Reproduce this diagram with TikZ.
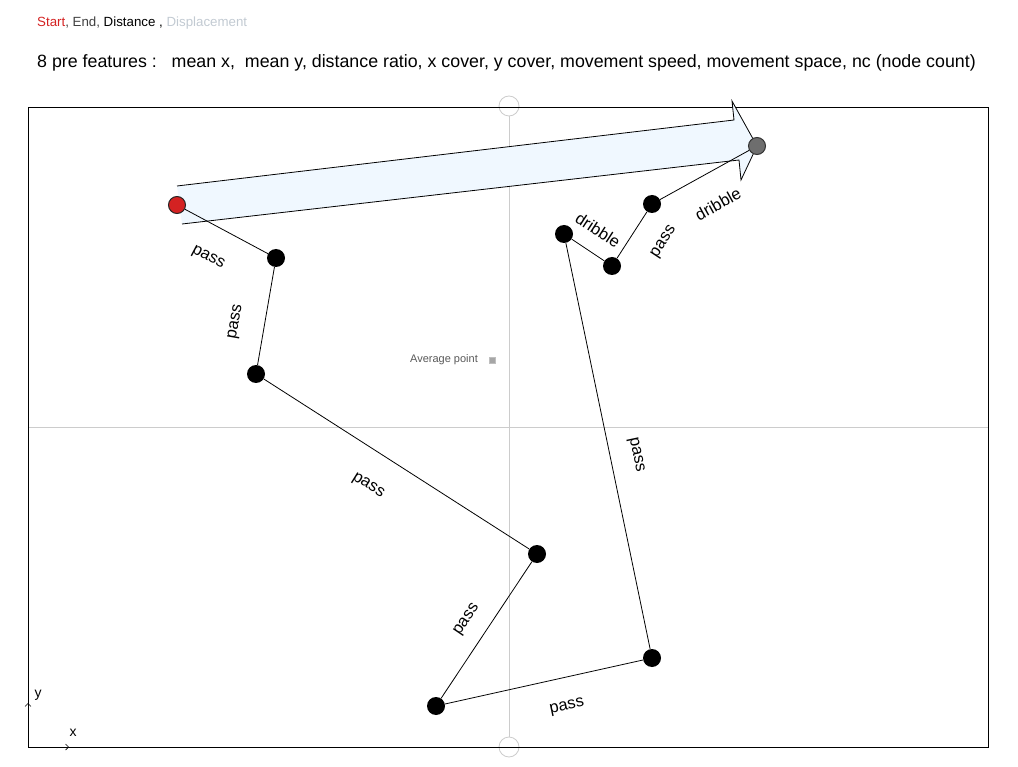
\documentclass[tikz,border=0pt]{standalone}
\usepackage{fontspec}
\setmainfont{Liberation Sans}
\usetikzlibrary{arrows.meta}
\definecolor{startred}{HTML}{D42222}
\definecolor{endgray}{HTML}{6E6E6E}
\definecolor{dispfill}{HTML}{F0F8FF}
\definecolor{guidegray}{HTML}{CCCCCC}
\definecolor{dispgray}{HTML}{C2CAD2}
\begin{document}
\begin{tikzpicture}[x=1pt,y=-1pt,
  dot/.style={circle,fill=black,inner sep=0pt,minimum size=18pt},
  lbl/.style={font=\fontsize{16.5}{19}\selectfont,inner sep=0pt},
  guide/.style={draw=guidegray,line width=0.8pt},
  edge/.style={draw=black,line width=0.8pt}]
\useasboundingbox (0,0) rectangle (1018,767);
% headers
\node[anchor=base west,inner sep=0pt,font=\fontsize{13.3}{16}\selectfont] (hdr) at (37,27)
  {\textcolor{startred}{Start}\textcolor{black!75}{, End,} Distance , \textcolor{dispgray}{Displacement}};
\node[anchor=base west,inner sep=0pt,font=\fontsize{17.8}{20}\selectfont] (feat) at (37,68)
  {8 pre features :\ \ \ mean x,\ \ mean y, distance ratio, x cover, y cover, movement speed, movement space, nc (node count)};
% guides
\node[circle,draw=guidegray,line width=0.8pt,minimum size=20pt,inner sep=0pt] (ctop) at (509,106) {};
\node[circle,draw=guidegray,line width=0.8pt,minimum size=20pt,inner sep=0pt] (cbot) at (509,747) {};
\draw[guide] (ctop.south) -- (cbot.north);
\coordinate (hl) at (28,427);
\coordinate (hr) at (988,427);
\draw[guide] (hl) -- (hr);
% frame
\draw[line width=0.9pt] (28,107) rectangle (988,747);
% axes marks
\coordinate (ya) at (28,714);
\coordinate (yb) at (28,703);
\draw[line width=0.7pt,-{Straight Barb[length=3pt,width=6pt]}] (ya) -- (yb);
\coordinate (xa) at (58,747);
\coordinate (xb) at (69,747);
\draw[line width=0.7pt,-{Straight Barb[length=3pt,width=6pt]}] (xa) -- (xb);
\node[font=\fontsize{14}{16}\selectfont,inner sep=0pt] (ylab) at (38,695) {y};
\node[font=\fontsize{14}{16}\selectfont,inner sep=0pt] (xlab) at (73,733) {x};
% displacement arrow
\coordinate (t1) at (177,186);
\coordinate (s1) at (734,120);
\coordinate (b1) at (732,101);
\coordinate (tip) at (757,146);
\coordinate (b2) at (741,180);
\coordinate (s2) at (739,160);
\coordinate (t2) at (182,224);
\fill[dispfill] (t1) -- (s1) -- (b1) -- (tip) -- (b2) -- (s2) -- (t2) -- cycle;
\draw[line width=0.8pt,line join=miter] (t1) -- (s1) -- (b1) -- (tip) -- (b2) -- (s2) -- (t2);
% average point
\node[font=\fontsize{11}{13}\selectfont,text=black!65,inner sep=0pt] (avg) at (444,360) {Average point};
\node[fill=black!35,draw=black!25,minimum size=6pt,inner sep=0pt] (avgpt) at (492,360) {};
% nodes
\node[circle,fill=startred,draw=black!85,line width=1pt,inner sep=0pt,minimum size=17pt] (s) at (177,205) {};
\node[dot] (a) at (276,258) {};
\node[dot] (b) at (256,374) {};
\node[dot] (c) at (537,554) {};
\node[dot] (d) at (436,706) {};
\node[dot] (e) at (652,658) {};
\node[dot] (f) at (564,234) {};
\node[dot] (g) at (612,266) {};
\node[dot] (h) at (652,204) {};
\node[circle,fill=endgray,draw=black!80,line width=1pt,inner sep=0pt,minimum size=17pt] (en) at (757,146) {};
% edges
\draw[edge] (s) -- (a);
\draw[edge] (a) -- (b);
\draw[edge] (b) -- (c);
\draw[edge] (c) -- (d);
\draw[edge] (d) -- (e);
\draw[edge] (e) -- (f);
\draw[edge] (f) -- (g);
\draw[edge] (g) -- (h);
\draw[edge] (h) -- (en);
% labels
\node[lbl,rotate=-28] (l1) at (208,258) {pass};
\node[lbl,rotate=80] (l2) at (236,322) {pass};
\node[lbl,rotate=-32] (l3) at (368,486) {pass};
\node[lbl,rotate=56] (l4) at (467,620) {pass};
\node[lbl,rotate=12] (l5) at (567,707) {pass};
\node[lbl,rotate=-78] (l6) at (636,455) {pass};
\node[lbl,rotate=-33] (l7) at (598,230) {dribble};
\node[lbl,rotate=57] (l8) at (664,242) {pass};
\node[lbl,rotate=29] (l9) at (718,204) {dribble};
\end{tikzpicture}
\end{document}
